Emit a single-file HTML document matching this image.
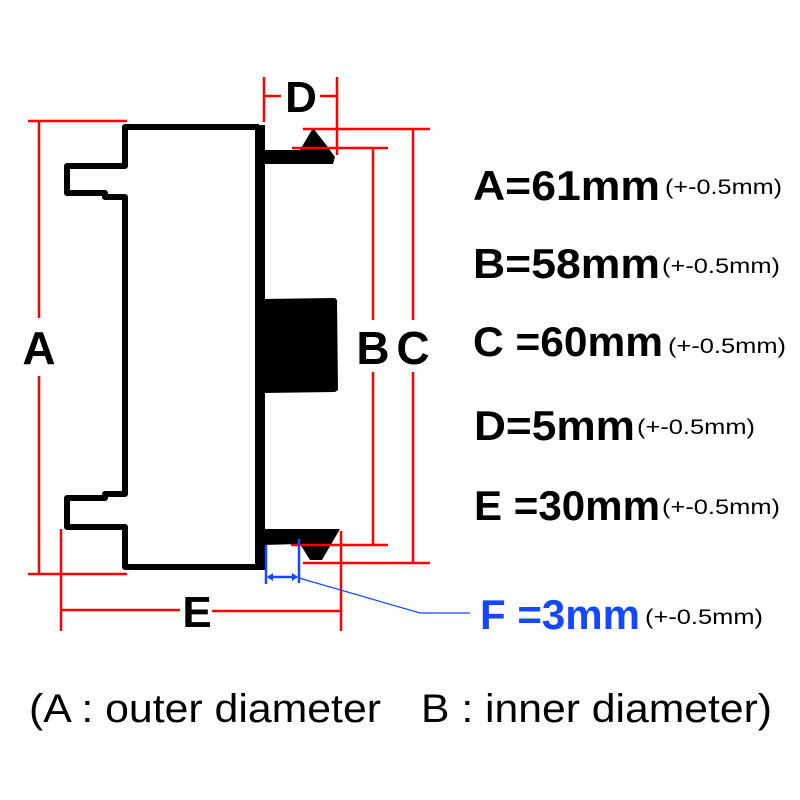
<!DOCTYPE html>
<html><head><meta charset="utf-8"><style>
html,body{margin:0;padding:0;background:#fff;width:800px;height:800px;overflow:hidden}
svg{display:block}
</style></head><body>
<svg width="800" height="800" viewBox="0 0 800 800" xmlns="http://www.w3.org/2000/svg">
<rect width="800" height="800" fill="#fff"/>
<!-- body outline -->
<g fill="none" stroke="#000" stroke-width="6" stroke-linejoin="round">
<polyline points="259,127 125,127 125,166 67,166 67,193 105,193 105,197 125,197 125,494 105,494 105,498 67,498 67,527 125,527 125,567 259,567"/>
</g>
<!-- right wall -->
<rect x="255" y="125" width="10" height="445" fill="#000"/>
<!-- top arm + triangle -->
<polygon points="262,150 300,150 313,128 324,142 335,157 333,164 262,164" fill="#000"/>
<!-- big block -->
<polygon points="262,299 335,298 337,300 338,390 335,392 262,393" fill="#000"/>
<!-- bottom arm + triangle -->
<polygon points="262,529 340,529 322,560 310,560 300,544 262,545" fill="#000"/>

<!-- red dimension lines -->
<g stroke="#f00" stroke-width="2.5" fill="none">
<line x1="28" y1="121" x2="127" y2="121"/>
<line x1="28" y1="574" x2="127" y2="574"/>
<line x1="39" y1="121" x2="39" y2="318"/>
<line x1="39" y1="376" x2="39" y2="574"/>
<line x1="264" y1="77" x2="264" y2="122"/>
<line x1="337" y1="77" x2="337" y2="155"/>
<line x1="264" y1="96" x2="281" y2="96"/>
<line x1="320" y1="96" x2="337" y2="96"/>
<line x1="303" y1="129" x2="430" y2="129"/>
<line x1="303" y1="563" x2="430" y2="563"/>
<line x1="413" y1="129" x2="413" y2="320"/>
<line x1="413" y1="372" x2="413" y2="563"/>
<line x1="292" y1="148" x2="388" y2="148"/>
<line x1="291" y1="545" x2="388" y2="545"/>
<line x1="373" y1="148" x2="373" y2="320"/>
<line x1="373" y1="372" x2="373" y2="545"/>
<line x1="61" y1="529" x2="61" y2="631"/>
<line x1="341" y1="531" x2="341" y2="631"/>
<line x1="61" y1="610" x2="180" y2="610"/>
<line x1="212" y1="611" x2="342" y2="611"/>
</g>
<!-- blue F -->
<g stroke="#1447ff" fill="none">
<line x1="266" y1="545" x2="266" y2="584" stroke-width="2.5"/>
<line x1="299" y1="539" x2="299" y2="583" stroke-width="2.5"/>
<line x1="268" y1="577" x2="297" y2="577" stroke-width="2.5"/>
<polyline points="299,578 420,613 470,613" stroke-width="1.2"/>
</g>
<polygon points="267,577 273,573 273,581" fill="#1447ff"/>
<polygon points="298,577 292,573 292,581" fill="#1447ff"/>

<g font-family="Liberation Sans, sans-serif" font-weight="bold" fill="#000">
<text x="39" y="364" font-size="46" text-anchor="middle">A</text>
<text x="301" y="112" font-size="44" text-anchor="middle">D</text>
<text x="373" y="364" font-size="46" text-anchor="middle">B</text>
<text x="413" y="364" font-size="46" text-anchor="middle">C</text>
<text x="197" y="627" font-size="44" text-anchor="middle">E</text>
<text x="473" y="200" font-size="42" textLength="187" lengthAdjust="spacingAndGlyphs">A=61mm</text>
<text x="473" y="278" font-size="42" textLength="187" lengthAdjust="spacingAndGlyphs">B=58mm</text>
<text x="473" y="356" font-size="42" textLength="190" lengthAdjust="spacingAndGlyphs">C =60mm</text>
<text x="474" y="440" font-size="42" textLength="161" lengthAdjust="spacingAndGlyphs">D=5mm</text>
<text x="474" y="520" font-size="42" textLength="186" lengthAdjust="spacingAndGlyphs">E =30mm</text>
<text x="480" y="629" font-size="42" fill="#1447ff" textLength="160" lengthAdjust="spacingAndGlyphs">F =3mm</text>
</g>
<g font-family="Liberation Sans, sans-serif" font-size="21" fill="#000">
<text x="665" y="194" textLength="117" lengthAdjust="spacingAndGlyphs">(+-0.5mm)</text>
<text x="662" y="273" textLength="118" lengthAdjust="spacingAndGlyphs">(+-0.5mm)</text>
<text x="668" y="353" textLength="118" lengthAdjust="spacingAndGlyphs">(+-0.5mm)</text>
<text x="637" y="434" textLength="118" lengthAdjust="spacingAndGlyphs">(+-0.5mm)</text>
<text x="662" y="514" textLength="118" lengthAdjust="spacingAndGlyphs">(+-0.5mm)</text>
<text x="645" y="624" textLength="118" lengthAdjust="spacingAndGlyphs">(+-0.5mm)</text>
</g>
<g font-family="Liberation Sans, sans-serif" font-size="40" fill="#000">
<text x="29" y="722" textLength="352" lengthAdjust="spacingAndGlyphs">(A : outer diameter</text>
<text x="421" y="722" textLength="351" lengthAdjust="spacingAndGlyphs">B : inner diameter)</text>
</g>
</svg>
</body></html>
